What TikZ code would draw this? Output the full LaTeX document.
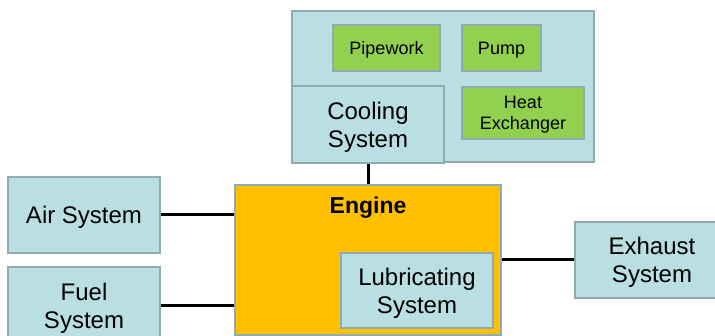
\documentclass[tikz,border=0pt]{standalone}
\usepackage{fontspec}
\setmainfont{Liberation Sans}
\definecolor{sysblue}{HTML}{B9DFE3}
\definecolor{sysedge}{HTML}{8FAAB0}
\definecolor{partgreen}{HTML}{92D050}
\definecolor{enginegold}{HTML}{FFC000}
\tikzset{
	sysbox/.style={draw=sysedge, line width=2.5pt, fill=sysblue, align=center, inner sep=0pt,
		font=\fontsize{24}{28}\selectfont, text depth=-1pt},
	partbox/.style={draw=sysedge, line width=2.5pt, fill=partgreen, align=center, inner sep=0pt,
		font=\fontsize{18}{21}\selectfont, text depth=-0.5pt},
	link/.style={line width=3pt},
}

\begin{document}
\begin{tikzpicture}[x=1pt,y=-1pt]
	\useasboundingbox (0,0) rectangle (715,336);
	
	%cooling group
	\node[sysbox, minimum width=302pt, minimum height=151pt] (coolarea) at (443,86.5) {};
	\node[sysbox, minimum width=152pt, minimum height=77pt]  (cool)     at (368,124.5) {Cooling\\System};
	\node[partbox, minimum width=107pt, minimum height=46pt] (pipework) at (386.5,48) {Pipework};
	\node[partbox, minimum width=79pt, minimum height=46pt]  (pump)     at (501.5,48) {Pump};
	\node[partbox, minimum width=122pt, minimum height=52pt] (heatex)   at (523,113) {Heat\\Exchanger};
	
	%engine
	\node[sysbox, fill=enginegold, minimum width=266pt, minimum height=150pt] (engine) at (368,260) {};
	\node[font=\fontsize{23}{27}\selectfont\bfseries] (engtitle) at (368,207.5) {Engine};
	\node[sysbox, minimum width=152pt, minimum height=75pt] (lube) at (417,290.5) {Lubricating\\System};
	
	%side systems
	\node[sysbox, minimum width=152pt, minimum height=76pt] (air)     at (84,215)  {Air System};
	\node[sysbox, minimum width=152pt, minimum height=78pt] (fuel)    at (84,306)  {Fuel\\System};
	\node[sysbox, minimum width=154pt, minimum height=76pt] (exhaust) at (652,260) {Exhaust\\System};
	
	%links
	\draw[link] (cool.south) -- (engine.north);
	\draw[link] (air.east) -- (air.east -| engine.west);
	\draw[link] (fuel.east) -- (fuel.east -| engine.west);
	\draw[link] (exhaust.west -| engine.east) -- (exhaust.west);
\end{tikzpicture}
\end{document}
